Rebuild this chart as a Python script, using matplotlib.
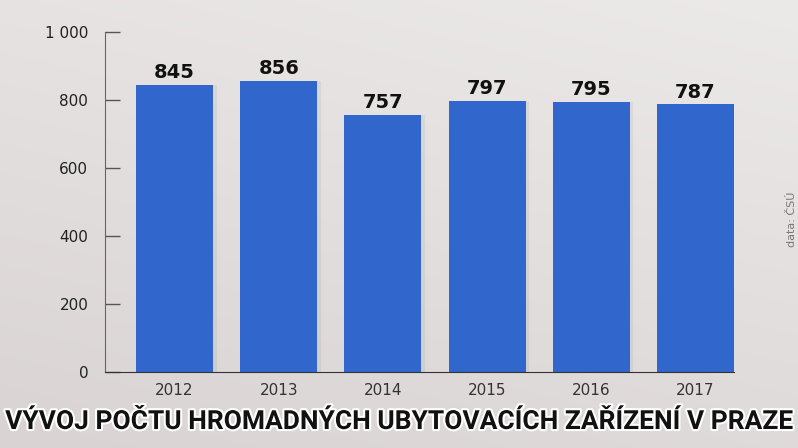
import matplotlib
matplotlib.use("Agg")
from matplotlib import pyplot as plt
from matplotlib.colors import LinearSegmentedColormap
import matplotlib.patheffects as pe
import numpy as np

# data
years = ["2012", "2013", "2014", "2015", "2016", "2017"]
counts = [845, 856, 757, 797, 795, 787]
yticks = [0, 200, 400, 600, 800, 1000]
ytick_labels = ["0", "200", "400", "600", "800", "1 000"]
title = "VÝVOJ POČTU HROMADNÝCH UBYTOVACÍCH ZAŘÍZENÍ V PRAZE"
source = "data: ČSÚ"

plt.rcParams['font.family'] = ['DejaVu Sans']

fig = plt.figure(figsize=(7.98, 4.48), dpi=100)

# soft background gradient
bg = fig.add_axes([0, 0, 1, 1], zorder=-10)
cmap_bg = LinearSegmentedColormap.from_list('bg', ['#ece9e9', '#d9d4d3'])
gy, gx = np.mgrid[0:1:200j, 0:1:200j]
grad = 0.7 * gy + 0.3 * (1 - gx)
bg.imshow(grad, cmap=cmap_bg, vmin=0, vmax=1, aspect='auto', extent=(0, 1, 0, 1))
bg.axis('off')

ax = fig.add_axes([0.1316, 0.1696, 0.7882, 0.759])
ax.patch.set_alpha(0)

x = np.arange(len(years))
# faint shadow behind bars
ax.bar(x + 0.035, counts, width=0.74, color='#000000', alpha=0.05, zorder=1)
bars = ax.bar(x, counts, width=0.74, color='#3166cc', zorder=2)

for xi, v in zip(x, counts):
    ax.text(xi, v + 8, str(v), ha='center', va='bottom', fontsize=14,
            fontweight='bold', color='#111111', zorder=3)

ax.set_xlim(-0.667, 5.37)
ax.set_ylim(0, 1000)
ax.set_yticks(yticks)
ax.set_yticklabels(ytick_labels)
ax.set_xticks(x)
ax.set_xticklabels(years)

for side in ['top', 'right']:
    ax.spines[side].set_visible(False)
ax.spines['left'].set_color('#666666')
ax.spines['bottom'].set_color('#333333')

ax.tick_params(axis='y', direction='in', length=11, width=1.0, color='#555555',
               labelsize=11, labelcolor='#222222', pad=12)
ax.tick_params(axis='x', length=0, labelsize=11, labelcolor='#333333', pad=8)

t = fig.text(0.5, 0.058, title, ha='center', va='center', fontsize=20,
             fontweight='bold', color='#111111', family=['Roboto', 'DejaVu Sans'],
             path_effects=[pe.withStroke(linewidth=3, foreground='white')])
# fit the title to ~786 px wide
r = fig.canvas.get_renderer()
w = t.get_window_extent(renderer=r).width
t.set_fontsize(20 * 786 / w)

fig.text(0.992, 0.51, source, rotation=90, ha='center', va='center',
         fontsize=8, color='#777777')

fig.savefig("out.png", dpi=100)
